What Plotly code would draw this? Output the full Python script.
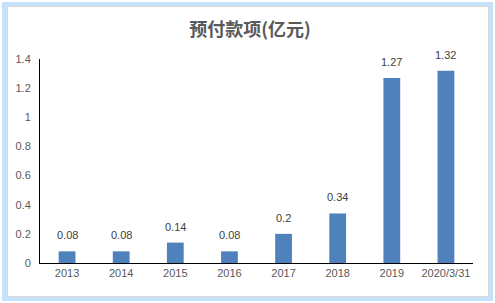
import plotly.graph_objects as go

categories = ["2013", "2014", "2015", "2016", "2017", "2018", "2019", "2020/3/31"]
values = [0.08, 0.08, 0.14, 0.08, 0.2, 0.34, 1.27, 1.32]
value_labels = ["0.08", "0.08", "0.14", "0.08", "0.2", "0.34", "1.27", "1.32"]
y_ticks = [0, 0.2, 0.4, 0.6, 0.8, 1.0, 1.2, 1.4]
y_tick_labels = ["0", "0.2", "0.4", "0.6", "0.8", "1", "1.2", "1.4"]
title = "预付款项(亿元)"

W, H = 495, 303
L, R, T, B = 40, 22, 59, 40
pw, ph = W - L - R, H - T - B

def px_x(p):
    return (p - L) / pw

def px_y(p):
    return (H - B - p) / ph

fig = go.Figure()
fig.add_trace(go.Bar(
    x=categories, y=values, width=0.31,
    marker=dict(color="#4F81BD", line=dict(width=0)),
    cliponaxis=False,
))

for i, (v, t) in enumerate(zip(values, value_labels)):
    fig.add_annotation(x=i, y=v, xref="x", yref="y", text=t, showarrow=False,
                       yanchor="bottom", yshift=8,
                       font=dict(family="Liberation Sans, Arial, sans-serif",
                                 size=11, color="#404040"))

fig.update_layout(
    width=W, height=H,
    margin=dict(l=L, r=R, t=T, b=B),
    paper_bgcolor="white", plot_bgcolor="rgba(0,0,0,0)",
    showlegend=False,
    bargap=0.69,
    title=dict(text="<b>" + title + "</b>", x=250 / W, xref="container", xanchor="center",
               y=1 - 30 / H, yref="container", yanchor="middle",
               font=dict(family="Noto Sans CJK SC", size=18, color="#595959")),
    xaxis=dict(type="category", categoryorder="array", categoryarray=categories,
               range=[-0.5, len(categories) - 0.5],
               showline=True, linecolor="black", linewidth=1,
               ticks="", showgrid=False,
               tickfont=dict(family="Liberation Sans, Arial, sans-serif", size=11, color="#595959")),
    yaxis=dict(range=[0, 1.4], tickvals=y_ticks, ticktext=y_tick_labels,
               showline=True, linecolor="black", linewidth=1, ticks="",
               showgrid=False, zeroline=False, ticklabelstandoff=6,
               tickfont=dict(family="Liberation Sans, Arial, sans-serif", size=11, color="#595959")),
    shapes=[
        dict(type="rect", xref="paper", yref="paper", layer="below",
             x0=px_x(2), x1=px_x(493), y0=px_y(301), y1=px_y(2),
             fillcolor="#C6E1FA", line=dict(width=0)),
        dict(type="rect", xref="paper", yref="paper", layer="below",
             x0=px_x(7.5), x1=px_x(488.5), y0=px_y(296.5), y1=px_y(6.5),
             fillcolor="white", line=dict(color="#D9D9D9", width=1)),
    ],
)

fig.write_html("out.html")
